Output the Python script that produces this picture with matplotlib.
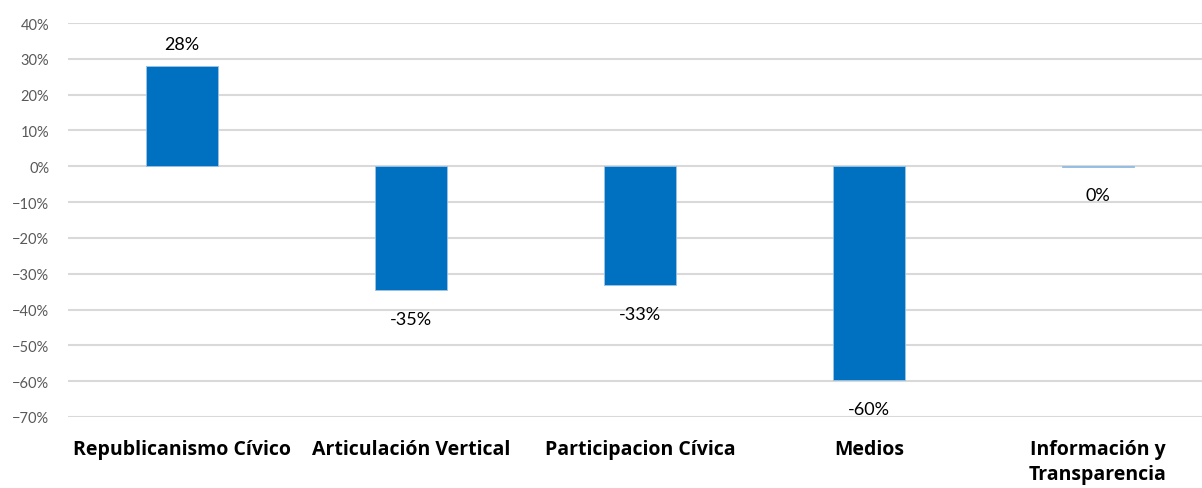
import numpy as np
import matplotlib.pyplot as plt
from matplotlib.ticker import PercentFormatter

plt.rcParams['font.family'] = ['Lato', 'DejaVu Sans']

categories = ["Republicanismo Cívico", "Articulación Vertical", "Participacion Cívica",
              "Medios", "Información y\nTransparencia"]
values = [0.279, -0.346, -0.332, -0.597, -0.001]
yticks = [0.4, 0.3, 0.2, 0.1, 0.0, -0.1, -0.2, -0.3, -0.4, -0.5, -0.6, -0.7]

fig = plt.figure(figsize=(12.02, 4.89), dpi=100)
ax = fig.add_axes([67.5 / 1202, 71 / 489, 1145 / 1202, 394 / 489])

x = np.arange(len(categories))
bars = ax.bar(x, values, width=0.314, color="#0070C0", edgecolor="#9DC3E6",
              linewidth=0.6, zorder=3)

for xi, v in zip(x, values):
    txt = "%d%%" % abs(round(v * 100)) if round(v * 100) == 0 else "%d%%" % round(v * 100)
    if v >= 0:
        ax.annotate(txt, (xi, v), xytext=(0, 10), textcoords="offset points",
                    ha="center", va="bottom", fontsize=13, color="#000000")
    else:
        ax.annotate(txt, (xi, v), xytext=(0, -15), textcoords="offset points",
                    ha="center", va="top", fontsize=13, color="#000000")

ax.set_xlim(-0.5, len(categories) - 0.5)
ax.set_ylim(-0.7, 0.4)
ax.set_yticks(yticks)
ax.yaxis.set_major_formatter(PercentFormatter(1.0, decimals=0))
ax.grid(axis="y", color="#D9D9D9", linewidth=1.5, zorder=0)
ax.set_axisbelow(True)

ax.set_xticks(x)
ax.set_xticklabels(categories, fontsize=14, fontweight="bold", linespacing=1.3,
                   family=["Open Sans", "DejaVu Sans"])
ax.tick_params(axis="x", length=0, pad=16)
ax.tick_params(axis="y", length=0, pad=13, labelsize=10.5, labelcolor="#595959")

for s in ax.spines.values():
    s.set_visible(False)

fig.savefig("out.png", dpi=100)
